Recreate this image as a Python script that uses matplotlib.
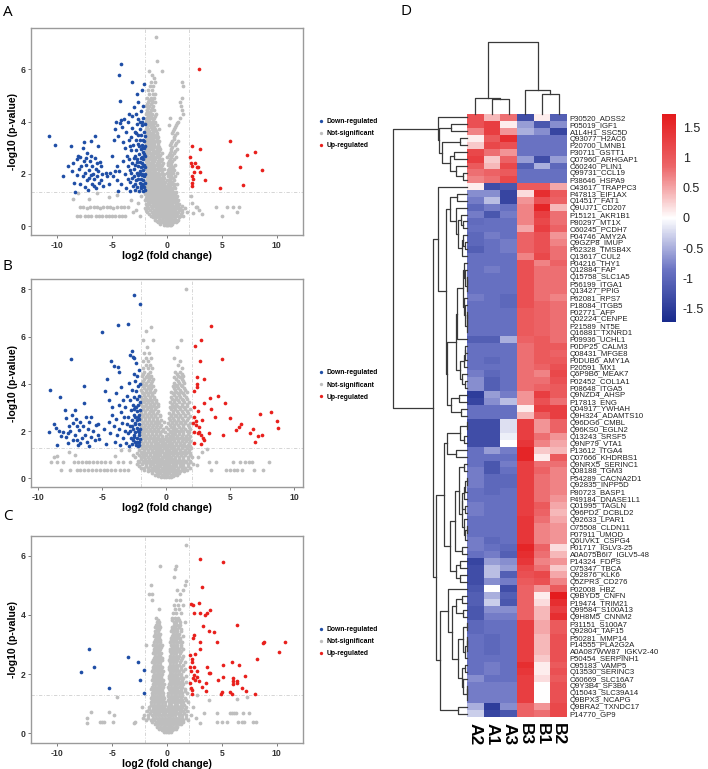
import numpy as np
import matplotlib
matplotlib.use("Agg")
import matplotlib.pyplot as plt
from matplotlib.colors import LinearSegmentedColormap
from matplotlib.lines import Line2D

plt.rcParams['font.family'] = ['Liberation Sans', 'DejaVu Sans']

# ---------------- Volcano data ----------------
legend_labels = ["Down-regulated", "Not-significant", "Up-regulated"]

a_down = [(-10.8,3.45),(-10.2,3.1),(-9.45,1.9),(-8.75,3.05),(-8.7,2.1),(-8.5,1.65),(-8.4,1.3),(-8.25,2.55),(-8.1,2.7),(-8.0,2.2),
(-7.9,2.65),(-7.8,2.3),(-7.7,1.9),(-7.6,2.5),(-7.55,3.2),(-7.5,2.05),(-7.45,1.5),(-7.4,2.35),(-7.3,1.75),(-7.25,2.8),(-7.2,1.4),
(-7.1,2.15),(-7.0,2.5),(-6.95,1.95),(-6.9,3.25),(-6.85,1.6),(-6.8,2.3),(-6.75,2.0),(-6.7,1.8),(-6.6,2.6),(-6.55,3.45),(-6.5,2.2),
(-6.45,1.45),(-6.4,2.4),(-6.35,1.9),(-6.3,3.05),(-6.25,2.1),(-6.2,1.65),(-6.1,2.45),(-6.05,1.75),(-6.0,2.3),(-5.9,2.0),(-5.8,1.55),
(-7.65,3.0),(-8.2,1.95),(-7.95,1.6),(-7.35,2.6),(-7.15,1.85),(-6.65,1.55),(-6.95,2.7),(-5.55,2.05),(-5.45,1.9),(-5.3,1.6),(-8.6,2.4),(-9.0,2.3),
(-5.0,2.7),(-4.8,3.3),(-4.7,3.7),(-4.6,1.75),(-4.5,1.35),(-4.4,5.8),(-4.15,6.2),(-4.25,4.8),(-4.2,4.05),(-4.3,3.95),(-4.1,3.8),
(-4.05,3.2),(-4.35,2.1),(-4.2,1.6),(-4.0,2.5),(-3.9,4.1),(-3.85,3.0),(-3.8,2.0),(-3.75,1.45),(-3.7,3.6),(-3.65,2.7),(-3.6,4.0),
(-3.6,1.8),(-3.55,2.3),(-3.5,3.3),(-3.5,4.3),(-4.55,2.3),(-4.75,2.1),(-5.2,2.05),(-4.9,1.9),(-4.45,3.45),(-4.65,4.0),
(-3.4,1.35),(-3.35,1.7),(-3.3,2.05),(-3.3,2.9),(-3.25,3.4),(-3.2,5.5),(-3.2,4.2),(-3.15,2.4),(-3.1,1.55),(-3.1,3.1),(-3.05,2.2),
(-3.0,4.55),(-3.0,1.9),(-2.95,2.7),(-2.95,3.6),(-2.9,1.4),(-2.9,2.35),(-2.85,3.3),(-2.85,4.3),(-2.8,1.75),(-2.8,2.9),(-2.75,2.05),
(-2.75,3.9),(-2.7,5.05),(-2.7,1.5),(-2.7,2.55),(-2.65,3.15),(-2.65,1.95),(-2.6,4.75),(-2.6,2.3),(-2.6,3.5),(-2.55,1.35),(-2.55,2.75),
(-2.5,1.65),(-2.5,3.3),(-2.5,4.0),(-2.5,2.1),(-2.45,2.45),(-2.45,3.7),(-2.4,1.8),(-2.4,2.95),(-2.4,1.45),(-2.35,2.25),(-2.35,3.5),
(-2.35,4.4),(-2.3,5.2),(-2.3,1.6),(-2.3,2.65),(-2.3,3.1),(-2.25,1.95),(-2.25,3.85),(-2.25,2.4),(-2.2,1.35),(-2.2,2.85),(-2.2,4.15),
(-2.2,1.75),(-2.15,2.15),(-2.15,3.3),(-2.15,2.55),(-2.15,4.6),(-2.1,5.45),(-2.1,1.5),(-2.1,1.9),(-2.1,2.35),(-2.1,3.0),(-2.1,3.6),
(-2.05,1.4),(-2.05,2.7),(-2.05,3.45),(-2.05,2.0),(-2.05,3.9),(-2.05,1.65),(-2.05,2.25),(-3.45,2.55),(-3.4,3.05),(-3.35,2.15),
(-3.2,1.85),(-3.15,3.75),(-3.0,2.6),(-2.9,1.6),(-2.8,3.55),(-2.75,2.45),(-2.65,1.8),(-2.6,2.0),(-2.55,3.05),(-2.45,2.0),(-2.4,2.6),
(-2.35,1.55),(-2.3,2.0),(-2.25,3.0),(-2.2,2.3),(-2.15,1.55),(-2.1,2.75),(-2.1,3.25),(-2.05,3.05),(-2.3,4.0),(-2.6,4.1)]

a_up = [(2.94,6.02),(2.3,3.08),(2.97,2.95),(2.06,2.66),(2.2,2.43),(2.27,2.31),(2.7,2.25),(2.85,2.27),(2.5,2.06),(2.97,2.06),
(2.27,1.92),(2.4,1.8),(2.27,1.66),(2.27,1.55),(3.45,1.76),(4.85,1.47),(5.76,3.26),(6.67,2.27),(6.97,1.57),(7.27,2.72),
(8.06,2.82),(8.64,2.15),(2.58,2.4)]

a_ns_rows = [
(0.05,[-0.3,-0.1,0.0,0.1,0.25,0.4]),
(0.15,[-0.8,-0.5,-0.3,-0.15,0.05,0.2,0.35,0.55,0.8]),
(0.25,[-1.1,-0.7,-0.45,-0.2,0.0,0.15,0.3,0.5,0.7,1.0]),
(0.4,[-1.5,-1.2,-0.9,-0.6,-0.4,-0.2,0.0,0.2,0.4,0.6,0.85,1.2,1.5]),
(0.55,[-1.8,-1.4,-1.1,-0.8,-0.55,-0.3,-0.1,0.1,0.3,0.5,0.75,1.0,1.4,1.8]),
(0.7,[-2.0,-1.7,-1.35,-1.0,-0.75,-0.5,-0.3,-0.05,0.15,0.35,0.6,0.9,1.2,1.6]),
(0.85,[-1.9,-1.6,-1.3,-1.05,-0.8,-0.6,-0.35,-0.15,0.05,0.25,0.5,0.8,1.1]),
(1.0,[-2.0,-1.75,-1.5,-1.2,-0.95,-0.7,-0.5,-0.25,0.0,0.2,0.45,0.7,1.0]),
(1.15,[-1.85,-1.6,-1.35,-1.1,-0.85,-0.6,-0.4,-0.15,0.1,0.35,0.6,0.9]),
(1.3,[-1.95,-1.7,-1.45,-1.2,-0.95,-0.7,-0.45,-0.2,0.05,0.3,0.55,0.85]),
(1.45,[-1.9,-1.65,-1.4,-1.15,-0.9,-0.65,-0.4,-0.1,0.15,0.45,0.75]),
(1.6,[-2.0,-1.75,-1.5,-1.25,-1.0,-0.75,-0.5,-0.25,0.05,0.35,0.65,0.95]),
(1.75,[-1.85,-1.6,-1.35,-1.1,-0.85,-0.6,-0.35,0.0,0.3,0.6]),
(1.9,[-1.95,-1.7,-1.45,-1.2,-0.95,-0.7,-0.4,0.1,0.4,0.7]),
(2.05,[-1.85,-1.6,-1.35,-1.05,-0.8,-0.5,0.0,0.25,0.55,0.9]),
(2.2,[-1.95,-1.7,-1.45,-1.2,-0.9,-0.6,-0.3,0.15,0.45]),
(2.35,[-1.85,-1.55,-1.3,-1.0,-0.7,-0.45,0.05,0.35,0.7]),
(2.5,[-1.95,-1.7,-1.4,-1.15,-0.85,-0.55,0.2,0.5]),
(2.65,[-1.8,-1.55,-1.3,-1.0,-0.7,0.0,0.35,0.8]),
(2.8,[-1.95,-1.65,-1.4,-1.1,-0.8,-0.5,0.25,0.6]),
(2.95,[-1.85,-1.55,-1.25,-0.95,-0.6,0.4,0.9]),
(3.1,[-1.95,-1.7,-1.45,-1.15,-0.85,0.3,0.7]),
(3.25,[-1.8,-1.55,-1.3,-1.0,-0.7,0.5,1.0]),
(3.4,[-1.95,-1.65,-1.4,-1.1,-0.8,0.65]),
(3.55,[-1.85,-1.55,-1.25,-0.95,0.45,0.9]),
(3.7,[-1.95,-1.7,-1.4,-1.1,-0.75,0.6]),
(3.85,[-1.8,-1.55,-1.25,-0.95,0.15,0.8]),
(4.0,[-1.95,-1.65,-1.35,-1.05,1.0]),
(4.15,[-1.85,-1.5,-1.2,0.3,1.2]),
(4.3,[-1.95,-1.65,-1.35,-1.0,1.5]),
(4.45,[-1.8,-1.5,-1.15,1.35]),
(4.6,[-1.9,-1.6,-1.3,1.25]),
(4.75,[-1.75,-1.4,-1.1,1.2]),
(4.9,[-1.85,-1.5,-1.2,1.35]),
(5.05,[-1.65,-1.3,-1.05]),
(5.2,[-1.75,-1.4]),
(5.35,[-1.55,-1.3,1.5]),
(5.5,[-1.45,-1.1,1.35]),
(5.65,[-1.2]),
(5.8,[-1.35]),
(5.95,[-1.6,-0.45]),
(6.3,[-0.9]),
(7.25,[-1.0]),
(0.1,[-0.6,-0.2,0.15,0.5]),
(0.2,[-0.95,-0.6,-0.1,0.25,0.6,0.9]),
(0.33,[-1.3,-1.0,-0.75,-0.5,-0.3,-0.1,0.1,0.3,0.5,0.75,1.1]),
(0.48,[-1.65,-1.3,-1.0,-0.7,-0.5,-0.25,-0.05,0.2,0.45,0.7,0.95,1.3]),
(0.63,[-1.9,-1.55,-1.2,-0.9,-0.65,-0.4,-0.2,0.05,0.25,0.45,0.7,1.05,1.4]),
(0.78,[-1.85,-1.5,-1.15,-0.9,-0.65,-0.4,-0.2,0.05,0.25,0.45,0.7,1.0,1.35]),
(0.93,[-1.75,-1.45,-1.15,-0.9,-0.7,-0.45,-0.25,-0.05,0.15,0.35,0.6,0.9]),
(1.08,[-1.9,-1.6,-1.35,-1.05,-0.8,-0.6,-0.35,-0.1,0.1,0.3,0.55,0.8]),
(1.23,[-2.0,-1.75,-1.5,-1.25,-1.0,-0.75,-0.5,-0.3,-0.05,0.2,0.45,0.7]),
(1.38,[-1.85,-1.55,-1.3,-1.05,-0.8,-0.55,-0.3,-0.05,0.2,0.45]),
(1.53,[-1.8,-1.55,-1.3,-1.05,-0.8,-0.55,-0.3,0.0,0.3,0.6]),
(1.68,[-1.95,-1.7,-1.45,-1.2,-0.95,-0.7,-0.45,-0.15,0.15,0.45]),
(1.83,[-1.8,-1.55,-1.3,-1.05,-0.8,-0.55,-0.25,0.25,0.55]),
(1.98,[-1.95,-1.7,-1.45,-1.2,-0.95,-0.65,-0.3,0.15,0.4]),
(2.13,[-1.8,-1.55,-1.3,-1.05,-0.75,-0.45,0.05,0.35,0.65]),
(2.28,[-1.95,-1.65,-1.4,-1.15,-0.85,-0.55,0.25,0.55]),
(2.43,[-1.8,-1.55,-1.25,-0.95,-0.7,-0.35,0.1,0.4]),
(2.58,[-1.9,-1.6,-1.35,-1.05,-0.75,-0.5,0.3,0.65]),
(2.73,[-1.8,-1.5,-1.25,-0.95,-0.65,0.15,0.5]),
(2.88,[-1.9,-1.6,-1.3,-1.0,-0.75,0.35,0.7]),
(3.03,[-1.8,-1.55,-1.3,-1.0,-0.7,0.5]),
(3.18,[-1.9,-1.65,-1.4,-1.15,-0.85,0.4,0.85]),
(3.33,[-1.85,-1.55,-1.25,-0.95,0.6]),
(3.48,[-1.75,-1.5,-1.2,-0.9,0.75]),
(3.63,[-1.9,-1.6,-1.3,-1.0,0.55]),
(3.78,[-1.85,-1.5,-1.2,0.7]),
(3.93,[-1.75,-1.45,-1.15,0.9]),
(4.08,[-1.9,-1.6,-1.3]),
(4.23,[-1.75,-1.45,-1.1]),
(4.38,[-1.85,-1.55]),
(4.53,[-1.7,-1.4]),
(4.68,[-1.85,-1.5]),
(4.83,[-1.65,-1.35])]

a_ns_extra = [(-8.55,1.03),(-8.1,1.28),(-7.1,1.02),(-6.4,1.28),(-5.3,1.1),(-4.6,1.2),(-3.3,1.0),(-3.6,0.74),(-2.6,0.9),(-2.4,1.15),
(-7.95,0.74),(-7.7,0.72),(-7.3,0.7),(-7.0,0.74),(-6.7,0.72),(-6.4,0.74),(-6.1,0.7),(-5.8,0.74),(-5.5,0.72),(-5.2,0.74),(-4.9,0.7),
(-4.6,0.74),(-4.2,0.72),(-3.9,0.74),(-8.25,0.38),(-7.9,0.37),(-7.5,0.38),(-7.2,0.37),(-6.9,0.38),(-6.5,0.37),(-6.2,0.38),(-5.9,0.37),
(-5.6,0.38),(-5.3,0.37),(-5.0,0.38),(-4.7,0.37),(-4.4,0.38),(-4.1,0.37),(-3.8,0.38),(-3.1,0.55),(-2.8,0.6),(-2.5,0.4),
(2.3,0.9),(2.6,0.75),(2.7,0.74),(2.9,0.6),(3.2,0.45),(4.5,0.74),(5.0,0.38),(5.5,0.74),(6.05,0.74),(6.4,0.55),(6.6,0.74),(2.2,1.15),(2.4,0.5)]

b_down = [(-9.2,1.95),(-9.05,3.75),(-8.75,2.3),(-8.6,2.15),(-8.55,1.4),(-8.3,3.45),(-8.2,1.8),(-8.05,1.95),(-7.95,2.9),(-7.85,1.75),
(-7.8,2.55),(-7.7,1.5),(-7.6,2.2),(-7.5,2.0),(-7.45,5.05),(-7.4,2.7),(-7.3,1.6),(-7.25,2.35),(-7.15,2.9),(-7.1,1.85),(-7.05,2.5),
(-6.95,2.2),(-6.9,1.4),(-6.8,2.05),(-6.7,2.4),(-6.6,1.7),(-6.5,2.2),(-6.45,3.2),(-6.4,3.9),(-6.35,1.85),(-6.3,2.6),(-6.2,1.55),
(-6.1,2.1),(-6.0,2.4),(-5.9,1.75),(-5.85,2.6),(-5.75,2.0),(-5.6,1.6),(-5.5,2.25),(-5.35,1.85),(-5.3,2.3),(-5.25,1.65),(-7.65,1.9),
(-7.0,1.6),(-8.4,2.0),(-6.75,1.5),(-6.05,1.35),
(-5.05,6.2),(-4.9,2.1),(-4.8,3.7),(-4.7,1.45),(-4.6,4.2),(-4.5,3.3),(-4.45,2.4),(-4.4,1.9),(-4.3,4.95),(-4.25,3.0),(-4.2,2.7),
(-4.1,4.75),(-4.1,2.2),(-4.0,1.55),(-3.95,3.6),(-3.9,2.5),(-3.85,1.85),(-3.75,6.5),(-3.75,4.7),(-3.7,4.5),(-3.7,3.1),(-3.65,2.1),
(-3.6,1.4),(-3.55,2.8),(-3.5,3.85),(-3.45,2.35),(-3.4,1.7),(-3.35,3.3),(-3.3,2.6),(-3.25,2.0),
(-2.95,6.55),(-2.55,7.78),(-2.05,7.38),(-3.2,3.0),(-3.15,1.5),(-3.1,2.3),(-3.05,3.5),(-3.0,1.9),(-2.95,2.6),(-2.9,4.05),(-2.9,1.35),
(-2.85,2.2),(-2.8,3.3),(-2.8,5.2),(-2.75,1.7),(-2.75,2.9),(-2.7,5.4),(-2.7,2.45),(-2.65,3.75),(-2.65,1.45),(-2.6,2.1),(-2.6,3.1),
(-2.6,5.15),(-2.55,4.4),(-2.55,1.85),(-2.5,2.7),(-2.5,3.45),(-2.5,5.1),(-2.45,1.55),(-2.45,2.3),(-2.45,4.1),(-2.4,3.0),(-2.4,1.95),
(-2.4,2.6),(-2.35,3.7),(-2.35,1.4),(-2.35,4.9),(-2.3,2.15),(-2.3,2.85),(-2.3,3.35),(-2.25,1.7),(-2.25,2.45),(-2.25,4.35),(-2.2,1.35),
(-2.2,2.0),(-2.2,3.1),(-2.2,3.9),(-2.15,2.3),(-2.15,1.55),(-2.15,2.7),(-2.15,4.6),(-2.1,1.85),(-2.1,3.5),(-2.1,2.5),(-2.1,1.4),
(-2.05,2.1),(-2.05,2.9),(-2.05,3.25),(-2.05,1.65),(-2.05,4.0),(-2.6,1.6),(-2.7,2.2),(-2.85,2.0),(-2.5,1.75),(-2.4,2.35),(-2.3,1.55),
(-2.2,2.6),(-2.15,1.95),(-2.35,3.0),(-2.55,2.95)]

b_up = [(3.51,6.46),(2.75,5.85),(2.28,5.59),(2.62,4.96),(4.35,5.05),(2.41,4.3),(2.96,4.2),(2.41,3.98),(2.41,3.88),(2.17,3.71),
(4.06,3.48),(3.43,3.38),(3.53,2.93),(2.96,3.17),(4.58,3.2),(2.17,3.0),(2.46,2.86),(3.8,2.6),(5.03,2.57),(7.33,2.71),(8.17,2.79),
(8.69,2.44),(8.74,2.14),(5.89,2.3),(5.71,2.16),(5.45,2.05),(6.54,1.9),(6.8,2.07),(7.2,1.8),(7.5,1.83),(6.94,1.55),(4.45,1.83),
(3.32,1.9),(2.17,2.6),(2.1,2.33),(2.36,2.26),(2.6,2.19),(2.17,1.97),(2.6,1.97),(2.49,1.9),(2.75,1.83),(2.88,1.7),(2.98,1.6),
(2.17,1.48),(2.7,1.44),(2.8,2.47),(2.3,2.44)]

b_ns_rows = [
(0.05,[-0.4,-0.2,0.0,0.2,0.4]),
(0.15,[-0.9,-0.6,-0.35,-0.1,0.1,0.35,0.6,0.85]),
(0.3,[-1.4,-1.1,-0.8,-0.55,-0.3,-0.1,0.1,0.3,0.55,0.8,1.1,1.4]),
(0.45,[-2.0,-1.7,-1.4,-1.1,-0.85,-0.6,-0.35,-0.1,0.15,0.4,0.65,0.9,1.2,1.5,1.9]),
(0.6,[-2.3,-1.9,-1.6,-1.3,-1.0,-0.75,-0.5,-0.25,0.0,0.25,0.5,0.75,1.05,1.35,1.7,2.1]),
(0.75,[-2.2,-1.85,-1.5,-1.2,-0.95,-0.7,-0.45,-0.2,0.05,0.3,0.55,0.85,1.15,1.5,1.9]),
(0.9,[-2.4,-2.0,-1.7,-1.4,-1.1,-0.85,-0.6,-0.35,-0.1,0.15,0.4,0.7,1.0,1.3,1.7,2.0]),
(1.05,[-2.3,-1.9,-1.55,-1.25,-0.95,-0.7,-0.45,-0.2,0.1,0.35,0.6,0.9,1.2,1.55,1.9]),
(1.2,[-2.1,-1.75,-1.4,-1.1,-0.8,-0.55,-0.3,-0.05,0.25,0.5,0.8,1.1,1.45,1.8]),
(1.35,[-1.95,-1.65,-1.35,-1.05,-0.8,-0.5,-0.25,0.05,0.3,0.6,0.9,1.2,1.5,1.85]),
(1.5,[-1.8,-1.5,-1.2,-0.9,-0.65,-0.35,-0.1,0.2,0.45,0.75,1.05,1.4,1.75]),
(1.65,[-1.95,-1.65,-1.35,-1.05,-0.75,-0.5,-0.2,0.1,0.35,0.65,0.95,1.3,1.65]),
(1.8,[-1.85,-1.55,-1.25,-0.95,-0.65,-0.35,0.0,0.3,0.55,0.85,1.2,1.55,1.9]),
(1.95,[-1.95,-1.7,-1.4,-1.1,-0.8,-0.45,-0.1,0.4,0.7,1.0,1.35,1.75]),
(2.1,[-1.85,-1.55,-1.25,-0.95,-0.6,-0.25,0.15,0.5,0.8,1.15,1.5,1.9]),
(2.25,[-1.95,-1.65,-1.35,-1.05,-0.75,-0.4,0.3,0.6,0.95,1.3,1.7]),
(2.4,[-1.8,-1.5,-1.2,-0.9,-0.55,-0.2,0.45,0.75,1.1,1.5]),
(2.55,[-1.95,-1.65,-1.35,-1.0,-0.7,0.2,0.55,0.9,1.25,1.7]),
(2.7,[-1.85,-1.5,-1.2,-0.85,-0.45,0.35,0.7,1.05,1.45]),
(2.85,[-1.95,-1.65,-1.3,-1.0,-0.65,0.5,0.85,1.2,1.65]),
(3.0,[-1.8,-1.45,-1.15,-0.8,0.3,0.65,1.0,1.4]),
(3.15,[-1.95,-1.6,-1.3,-0.95,-0.6,0.45,0.8,1.2,1.6]),
(3.3,[-1.85,-1.5,-1.15,-0.8,0.6,0.95,1.35]),
(3.45,[-1.95,-1.65,-1.3,-0.95,0.4,0.75,1.1,1.55]),
(3.6,[-1.8,-1.45,-1.1,0.55,0.9,1.3]),
(3.75,[-1.95,-1.6,-1.25,-0.9,0.7,1.05,1.5]),
(3.9,[-1.8,-1.4,-1.05,0.5,0.85,1.25]),
(4.05,[-1.9,-1.55,-1.2,0.65,1.0,1.4]),
(4.2,[-1.75,-1.35,-1.0,0.8,1.2]),
(4.35,[-1.9,-1.5,-1.15,0.95,1.35]),
(4.5,[-1.7,-1.3,0.7,1.1]),
(4.65,[-1.85,-1.45,-1.1,1.25]),
(4.8,[-1.6,-1.25,0.9]),
(4.95,[-1.8,-1.4,1.05]),
(5.1,[-1.55,-1.2,0.6]),
(5.3,[-1.7,-1.35]),
(5.55,[-1.5,0.85]),
(5.85,[-1.8,-1.0,1.15]),
(6.25,[-1.55]),
(6.4,[-1.2]),
(8.0,[1.55]),
(0.1,[-0.65,-0.3,0.1,0.5]),
(0.22,[-1.1,-0.75,-0.45,-0.2,0.0,0.25,0.5,0.75,1.0]),
(0.37,[-1.7,-1.25,-0.95,-0.7,-0.45,-0.2,0.0,0.2,0.45,0.7,0.95,1.25,1.65]),
(0.52,[-2.1,-1.55,-1.25,-0.95,-0.7,-0.45,-0.2,0.05,0.3,0.55,0.8,1.05,1.35,1.7]),
(0.67,[-2.1,-1.75,-1.45,-1.15,-0.85,-0.6,-0.35,-0.1,0.15,0.4,0.65,0.9,1.2,1.55,1.9]),
(0.82,[-2.0,-1.65,-1.35,-1.05,-0.8,-0.55,-0.3,-0.05,0.2,0.45,0.7,1.0,1.3,1.7]),
(0.97,[-2.15,-1.8,-1.55,-1.25,-0.95,-0.7,-0.45,-0.2,0.0,0.25,0.55,0.85,1.15,1.5,1.85]),
(1.12,[-2.0,-1.7,-1.4,-1.1,-0.85,-0.6,-0.35,-0.05,0.2,0.45,0.75,1.05,1.35,1.7]),
(1.27,[-1.9,-1.6,-1.25,-0.95,-0.7,-0.45,-0.15,0.1,0.35,0.65,0.95,1.25,1.6,1.95]),
(1.42,[-1.8,-1.5,-1.2,-0.9,-0.65,-0.4,-0.1,0.15,0.45,0.75,1.05,1.35,1.7]),
(1.57,[-1.95,-1.65,-1.35,-1.05,-0.8,-0.5,-0.25,0.05,0.3,0.6,0.9,1.2,1.55,1.9]),
(1.72,[-1.8,-1.5,-1.2,-0.9,-0.6,-0.35,-0.05,0.2,0.5,0.8,1.1,1.45,1.8]),
(1.87,[-1.95,-1.7,-1.4,-1.1,-0.8,-0.5,0.15,0.45,0.7,1.0,1.35,1.7]),
(2.02,[-1.8,-1.5,-1.2,-0.9,-0.6,-0.3,0.3,0.6,0.9,1.25,1.6]),
(2.17,[-1.95,-1.7,-1.4,-1.1,-0.8,-0.45,0.0,0.35,0.65,1.0,1.35,1.75]),
(2.32,[-1.8,-1.5,-1.2,-0.9,-0.6,0.15,0.45,0.8,1.15,1.5,1.85]),
(2.47,[-1.95,-1.65,-1.35,-1.05,-0.75,-0.4,0.3,0.6,0.95,1.3,1.65]),
(2.62,[-1.8,-1.5,-1.2,-0.85,-0.5,0.4,0.75,1.1,1.45,1.85]),
(2.77,[-1.95,-1.65,-1.35,-1.05,-0.7,0.2,0.55,0.9,1.3,1.7]),
(2.92,[-1.8,-1.5,-1.15,-0.85,0.35,0.7,1.05,1.45,1.85]),
(3.07,[-1.9,-1.65,-1.3,-1.0,-0.65,0.5,0.85,1.2,1.6]),
(3.22,[-1.75,-1.45,-1.1,-0.8,0.3,0.65,1.0,1.4,1.8]),
(3.37,[-1.9,-1.6,-1.3,-0.95,0.45,0.8,1.2,1.6]),
(3.52,[-1.75,-1.45,-1.1,0.65,1.0,1.4]),
(3.67,[-1.9,-1.6,-1.3,-0.95,0.4,0.75,1.15,1.6]),
(3.82,[-1.75,-1.45,-1.15,0.6,0.95,1.4]),
(3.97,[-1.65,-1.3,0.75,1.15]),
(4.12,[-1.85,-1.45,-1.1,0.9,1.3]),
(4.27,[-1.6,-1.25,0.6,1.05]),
(4.42,[-1.8,-1.4,0.85,1.25])]

b_ns_extra = [(-8.2,0.37),(-7.5,0.37),(-7.0,0.37),(-6.7,0.37),(-6.4,0.37),(-6.1,0.37),(-5.8,0.37),(-5.5,0.37),(-5.2,0.37),(-4.9,0.37),
(-4.6,0.37),(-4.3,0.37),(-4.0,0.37),(-3.6,0.37),(-3.3,0.37),(-3.0,0.37),
(-9.0,0.7),(-8.5,0.7),(-8.1,0.7),(-7.2,0.7),(-6.9,0.7),(-6.6,0.7),(-6.3,0.7),(-6.0,0.7),(-5.7,0.7),(-5.4,0.7),(-5.1,0.7),(-4.8,0.7),
(-4.4,0.7),(-3.8,0.7),(-3.4,0.7),(-2.8,0.7),(-8.8,0.9),(-8.5,0.95),(-7.6,1.1),(-7.1,1.0),(-4.0,0.95),(-3.5,1.2),(-2.6,1.0),(-2.9,1.2),
(3.5,0.37),(4.7,0.37),(5.0,0.37),(5.3,0.37),(5.55,0.37),(5.9,0.37),(6.9,0.37),(7.6,0.37),
(3.35,0.7),(3.9,0.7),(5.2,0.7),(5.8,0.7),(6.15,0.7),(6.45,0.7),(6.75,0.7),(8.05,0.7),(2.5,0.9),(2.8,1.1),(3.2,1.25),(2.4,0.55)]

c_down = [(-7.12,2.85),(-7.88,2.06),(-6.67,2.23),(-5.3,1.54),(-3.55,2.57),(-2.64,2.4),(-2.12,2.14),(-2.48,1.8),(-2.06,1.37)]

c_up = [(2.97,5.9),(5.09,5.79),(3.18,4.93),(2.18,4.37),(2.33,4.32),(2.94,4.39),(2.48,4.08),(3.03,4.08),(3.48,4.01),(3.64,4.05),
(3.88,4.17),(3.27,3.63),(3.79,3.46),(4.33,3.41),(6.36,3.66),(4.55,3.07),(2.42,3.32),(2.33,3.21),(2.97,3.07),(3.03,2.85),(2.52,2.68),
(2.06,2.65),(2.27,2.51),(2.27,2.4),(2.06,2.25),(2.48,2.25),(2.21,2.12),(2.42,1.97),(2.36,1.86),(2.52,1.8),(2.73,2.09),(2.73,1.9),
(2.88,1.75),(2.06,1.69),(2.18,1.52),(2.27,1.46),(2.27,1.33),(3.18,1.55),(3.58,1.69),(3.79,2.05),(3.94,2.05),(3.64,2.25),(3.55,1.43),
(4.67,1.8),(5.06,1.4),(4.91,1.33),(5.15,2.31),(5.15,1.91),(5.76,1.41),(5.91,1.33),(5.97,2.4),(6.06,1.86),(6.06,1.75),(6.06,1.67),
(6.42,1.75),(6.36,1.69),(6.52,2.31),(6.88,1.52),(7.12,1.95),(7.21,1.44),(8.03,1.33),(8.18,2.51),(8.73,3.04),(8.85,3.07),(10.24,2.74),
(10.76,3.1)]

c_ns_rows = [
(0.05,[-0.3,-0.1,0.05,0.2,0.35]),
(0.15,[-0.7,-0.45,-0.25,-0.05,0.15,0.35,0.6,0.8]),
(0.3,[-1.1,-0.8,-0.55,-0.3,-0.1,0.1,0.3,0.55,0.8,1.05,1.3]),
(0.45,[-1.9,-1.5,-1.15,-0.85,-0.6,-0.35,-0.1,0.15,0.4,0.65,0.9,1.2,1.5,1.9]),
(0.6,[-2.1,-1.7,-1.35,-1.05,-0.8,-0.55,-0.3,0.0,0.25,0.5,0.75,1.05,1.35,1.7,2.2]),
(0.75,[-1.8,-1.45,-1.15,-0.9,-0.65,-0.4,-0.15,0.1,0.35,0.6,0.85,1.15,1.5,1.85]),
(0.9,[-1.6,-1.3,-1.05,-0.8,-0.55,-0.3,0.05,0.3,0.55,0.8,1.05,1.35,1.7]),
(1.05,[-1.45,-1.2,-0.95,-0.7,-0.45,-0.2,0.15,0.4,0.65,0.9,1.2,1.5,1.9]),
(1.2,[-1.5,-1.25,-1.0,-0.75,-0.5,-0.25,0.2,0.45,0.7,0.95,1.25,1.6]),
(1.35,[-1.35,-1.1,-0.85,-0.6,-0.35,0.1,0.35,0.6,0.85,1.1,1.4,1.8]),
(1.5,[-1.45,-1.2,-0.95,-0.7,-0.45,0.2,0.45,0.7,0.95,1.25,1.6]),
(1.65,[-1.3,-1.05,-0.8,-0.55,-0.3,0.15,0.4,0.65,0.9,1.2,1.5]),
(1.8,[-1.4,-1.15,-0.9,-0.65,-0.4,0.25,0.5,0.75,1.0,1.35]),
(1.95,[-1.3,-1.05,-0.8,-0.55,0.2,0.45,0.7,0.95,1.3,1.75]),
(2.1,[-1.4,-1.15,-0.9,-0.65,-0.4,0.3,0.55,0.8,1.1,1.45]),
(2.25,[-1.25,-1.0,-0.75,-0.5,0.2,0.45,0.7,0.95,1.3]),
(2.4,[-1.35,-1.1,-0.85,-0.6,0.3,0.55,0.8,1.15,1.6]),
(2.55,[-1.2,-0.95,-0.7,-0.45,0.25,0.5,0.75,1.0,1.4]),
(2.7,[-1.3,-1.05,-0.8,-0.55,0.35,0.6,0.85,1.2]),
(2.85,[-1.15,-0.9,-0.65,0.3,0.55,0.8,1.1,1.5]),
(3.0,[-1.95,-1.25,-1.0,-0.75,-0.5,0.4,0.65,0.9,1.3]),
(3.15,[-1.1,-0.85,-0.6,0.35,0.6,0.85,1.15]),
(3.3,[-1.2,-0.95,-0.7,0.45,0.7,1.0,1.45]),
(3.45,[-1.05,-0.8,0.4,0.65,0.9,1.25]),
(3.6,[-1.1,-0.85,-0.6,0.5,0.75,1.05]),
(3.75,[-0.95,-0.7,0.6,0.85,1.2,1.6]),
(3.9,[-1.0,0.45,0.7,1.0]),
(4.05,[0.55,0.85,1.3]),
(4.2,[-0.75,0.7,1.1]),
(4.35,[0.6,1.0,1.5]),
(4.5,[-1.4,0.8,1.2]),
(4.7,[-1.65,-1.35,1.2]),
(4.85,[0.9,1.45]),
(5.0,[-1.45,1.6]),
(5.15,[1.7]),
(5.3,[0.6]),
(5.55,[0.7]),
(5.65,[-0.65,0.8]),
(6.35,[1.7]),
(0.1,[-0.5,-0.2,0.1,0.45]),
(0.22,[-0.9,-0.6,-0.35,-0.15,0.05,0.25,0.45,0.7,0.95]),
(0.37,[-1.35,-1.0,-0.7,-0.45,-0.2,0.0,0.2,0.45,0.7,0.95,1.2,1.5]),
(0.52,[-1.7,-1.3,-1.0,-0.75,-0.45,-0.2,0.05,0.3,0.55,0.8,1.05,1.35,1.7]),
(0.67,[-1.55,-1.2,-0.95,-0.7,-0.4,-0.15,0.15,0.4,0.65,0.9,1.2,1.55]),
(0.82,[-1.65,-1.3,-1.0,-0.75,-0.5,-0.25,0.0,0.25,0.5,0.75,1.0,1.3,1.65]),
(0.97,[-1.5,-1.2,-0.95,-0.7,-0.45,-0.2,0.15,0.4,0.7,0.95,1.25,1.55]),
(1.12,[-1.35,-1.1,-0.85,-0.6,-0.35,0.05,0.3,0.55,0.8,1.05,1.35,1.7]),
(1.27,[-1.4,-1.15,-0.9,-0.65,-0.4,0.1,0.35,0.6,0.85,1.1,1.4]),
(1.42,[-1.25,-1.0,-0.75,-0.5,0.25,0.5,0.75,1.0,1.3,1.6]),
(1.57,[-1.35,-1.1,-0.85,-0.6,-0.35,0.1,0.35,0.6,0.85,1.1,1.4]),
(1.72,[-1.2,-0.95,-0.7,-0.45,0.3,0.55,0.8,1.05,1.35,1.7]),
(1.87,[-1.3,-1.05,-0.8,-0.55,0.15,0.4,0.65,0.9,1.15,1.5]),
(2.02,[-1.2,-0.95,-0.7,-0.45,0.25,0.5,0.75,1.0,1.3]),
(2.17,[-1.3,-1.05,-0.8,-0.55,0.2,0.45,0.7,0.95,1.25,1.6]),
(2.32,[-1.15,-0.9,-0.65,0.3,0.55,0.85,1.1,1.45]),
(2.47,[-1.25,-1.0,-0.75,-0.5,0.2,0.45,0.7,0.95,1.25]),
(2.62,[-1.1,-0.85,-0.6,0.3,0.55,0.8,1.1,1.5]),
(2.77,[-1.2,-0.95,-0.7,0.25,0.5,0.75,1.0,1.3]),
(2.92,[-1.05,-0.8,-0.55,0.45,0.7,0.95,1.25]),
(3.07,[-1.15,-0.9,-0.65,0.3,0.55,0.8,1.05,1.4]),
(3.22,[-1.0,-0.75,0.4,0.65,0.9,1.2]),
(3.37,[-1.1,-0.85,-0.6,0.55,0.8,1.1]),
(3.52,[-0.95,-0.7,0.45,0.7,0.95,1.3]),
(3.67,[-1.0,-0.75,0.6,0.9,1.15]),
(3.82,[-0.85,0.5,0.8,1.05])]

c_ns_extra = [(-7.33,0.51),(-7.27,0.36),(-6.97,0.71),(-6.1,0.37),(-5.9,0.37),(-5.76,0.37),(-5.3,0.71),(-4.85,0.6),(-4.9,0.37),
(-4.55,1.24),(-3.03,0.36),(-2.9,0.37),(-2.2,0.5),(-2.3,0.9),
(3.03,0.36),(3.33,0.68),(3.79,1.13),(4.55,0.68),(4.6,0.37),(5.0,0.37),(5.5,0.37),(5.76,0.68),(5.9,0.68),(6.1,0.68),(6.3,0.68),
(6.9,0.68),(6.5,0.37),(6.8,0.37),(7.0,0.37),(7.8,0.37),(8.1,0.37),(7.5,0.68),(7.27,1.24),(6.36,1.16),(2.73,1.3),(2.4,0.9),(2.6,0.5)]

# ---------------- Heatmap data (row-scaled values) ----------------
hm_cols = ["A2", "A1", "A3", "B3", "B1", "B2"]
hm_rows = ["P30520_ADSS2","P05019_IGF1","A1L4H1_SSC5D","Q93077_H2AC6","P20700_LMNB1","P30711_GSTT1","Q07960_ARHGAP1","O60240_PLIN1","Q99731_CCL19","P38646_HSPA9",
"O43617_TRAPPC3","P47813_EIF1AX","Q14517_FAT1","Q9UJ71_CD207","P15121_AKR1B1","P80297_MT1X","O60245_PCDH7","P04746_AMY2A","Q9GZP8_IMUP","P62328_TMSB4X",
"Q13617_CUL2","P04216_THY1","Q12884_FAP","Q15758_SLC1A5","P56199_ITGA1","Q13427_PPIG","P62081_RPS7","P18084_ITGB5","P02771_AFP","Q02224_CENPE",
"P21589_NT5E","Q16881_TXNRD1","P09936_UCHL1","P0DP25_CALM3","Q08431_MFGE8","P0DUB6_AMY1A","P20591_MX1","Q6P9B6_MEAK7","P02452_COL1A1","P08648_ITGA5",
"Q9NZD4_AHSP","P17813_ENG","Q04917_YWHAH","Q9H324_ADAMTS10","Q96DG6_CMBL","Q96KS0_EGLN2","Q13243_SRSF5","Q9NP79_VTA1","P13612_ITGA4","Q07666_KHDRBS1",
"Q9NRX5_SERINC1","Q08188_TGM3","P54289_CACNA2D1","Q92835_INPP5D","P80723_BASP1","P49184_DNASE1L1","Q01995_TAGLN","Q96PD2_DCBLD2","Q92633_LPAR1","O75508_CLDN11",
"P07911_UMOD","Q6UVK1_CSPG4","P01717_IGLV3-25","A0A075B6I7_IGLV5-48","P14324_FDPS","O75347_TBCA","Q92876_KLK6","Q5ZPR3_CD276","P02008_HBZ","Q9BYD5_CNFN",
"P19474_TRIM21","Q99584_S100A13","Q9H8M5_CNNM2","P31151_S100A7","Q92804_TAF15","P50281_MMP14","P14555_PLA2G2A","A0A087WW87_IGKV2-40","P50454_SERPINH1","O95183_VAMP5",
"Q13530_SERINC3","O60669_SLC16A7","Q9Y3B4_SF3B6","Q15043_SLC39A14","Q9BPX3_NCAPG","Q9BRA2_TXNDC17","P14770_GP9"]

hm_values = [
[1.1,0.4,0.8,-1.3,0.1,-1.1],[1.1,1.3,0.1,-0.6,-1.2,-0.7],[0.7,1.3,0.6,-0.5,-0.7,-1.4],[0.1,1.0,1.5,-0.87,-0.87,-0.87],
[0.3,1.2,1.1,-0.87,-0.87,-0.87],[1.2,0.8,0.6,-0.87,-0.87,-0.87],[1.3,0.3,0.9,-0.6,-1.3,-0.6],[1.0,0.4,1.2,-1.1,-0.5,-1.0],
[0.8,0.9,1.0,-0.9,-0.9,-0.9],[0.7,0.8,1.2,-0.9,-0.9,-0.9],
[0.1,-1.3,-1.2,1.0,1.0,0.5],[-0.7,-0.7,-1.4,0.2,1.5,1.0],[-0.8,-0.4,-1.4,0.6,1.1,0.9],[-1.0,-0.8,-0.9,0.7,1.6,0.4],
[-0.8,-1.2,-0.8,0.7,1.3,0.8],[-0.95,-0.9,-0.9,0.7,1.2,0.8],[-0.9,-0.9,-0.9,0.5,1.3,0.9],[-1.0,-0.8,-0.9,0.9,1.1,0.6],
[-1.0,-0.9,-0.8,0.9,1.1,0.7],[-1.1,-0.9,-0.8,0.9,1.1,0.8],
[-0.9,-0.9,-0.9,0.7,1.2,0.8],[-0.9,-0.9,-0.9,1.1,0.7,0.9],[-0.9,-0.8,-0.9,1.1,0.8,0.8],[-0.9,-0.9,-0.9,1.1,0.8,0.8],
[-0.9,-0.9,-0.9,1.1,0.8,0.8],[-0.9,-0.9,-0.9,1.1,0.8,0.8],[-0.8,-0.9,-1.0,1.1,0.8,0.7],[-0.9,-0.9,-1.0,1.1,0.9,0.8],
[-0.9,-0.9,-0.9,1.0,0.9,0.8],[-0.9,-0.9,-0.9,1.0,0.9,0.8],
[-0.9,-0.9,-0.9,1.0,0.9,0.8],[-0.9,-0.9,-0.9,1.0,0.9,0.8],[-1.1,-1.1,-0.5,0.9,1.0,0.8],[-0.9,-0.9,-0.9,0.8,1.0,1.0],
[-0.9,-0.9,-0.9,0.8,1.0,0.9],[-0.9,-1.0,-0.9,0.8,1.0,1.0],[-0.9,-0.9,-0.9,0.8,0.9,1.1],[-0.8,-1.0,-0.9,0.8,0.7,1.2],
[-0.7,-1.1,-0.9,0.8,0.8,1.1],[-0.7,-1.1,-0.9,0.8,0.9,1.0],
[-1.5,-0.6,-0.8,0.6,1.3,1.0],[-1.4,-0.7,-0.4,0.6,1.1,0.8],[-0.9,-0.9,-0.9,0.1,1.3,1.3],[-0.9,-0.9,-0.9,0.4,1.0,1.3],
[-1.3,-1.3,-0.2,1.3,0.6,0.9],[-1.3,-1.3,-0.2,1.3,0.6,0.9],[-1.3,-1.3,-0.1,1.3,0.8,0.6],[-1.3,-1.3,0.0,1.4,0.7,0.5],
[-0.9,-0.6,-0.8,1.6,0.3,0.4],[-0.9,-0.9,-0.9,1.6,0.1,1.0],
[-0.9,-1.2,-0.8,1.3,0.8,0.8],[-0.8,-1.2,-0.9,1.3,0.9,0.7],[-0.8,-1.0,-1.0,1.3,0.8,0.7],[-0.8,-1.0,-1.0,1.3,0.8,0.7],
[-0.9,-1.0,-0.9,1.3,0.8,0.7],[-0.9,-0.9,-0.9,1.3,0.8,0.6],[-0.8,-0.9,-0.9,1.3,1.0,0.5],[-0.8,-0.9,-0.9,1.3,0.9,0.4],
[-0.9,-0.9,-0.9,1.4,0.8,0.5],[-0.9,-0.9,-0.9,1.4,0.7,0.6],
[-0.9,-0.9,-0.9,1.4,0.7,0.6],[-0.8,-1.0,-0.9,1.4,0.7,0.6],[-0.8,-0.9,-1.0,1.6,0.9,0.2],[-0.9,-0.8,-1.1,1.5,0.8,0.4],
[-1.4,-0.6,-0.7,1.4,0.7,0.6],[-1.3,-0.4,-0.6,1.2,0.8,0.3],[-1.3,-0.4,-1.1,1.1,1.2,0.5],[-1.3,-0.7,-0.8,1.0,1.1,0.7],
[-1.2,0.0,-1.3,0.9,0.6,1.0],[-1.1,-0.5,-1.1,0.9,0.1,1.7],
[-1.1,-0.3,-1.2,0.9,0.2,1.5],[-1.2,-0.7,-0.7,0.9,0.4,1.3],[-1.2,-0.8,-0.8,0.9,0.4,1.5],[-1.0,-0.9,-0.9,1.3,0.5,1.0],
[-1.0,-0.9,-0.9,1.3,0.5,1.0],[-0.9,-1.0,-0.9,1.3,0.4,1.1],[-0.9,-1.0,-0.9,1.3,0.4,1.1],[-0.9,-1.0,-0.9,1.3,0.4,1.1],
[-0.9,-0.9,-0.9,1.3,0.3,1.1],[-0.9,-0.8,-0.9,1.5,0.1,1.0],
[-0.9,-0.8,-0.9,1.4,0.1,1.1],[-0.7,-0.9,-0.9,1.3,0.2,1.0],[-0.8,-0.8,-0.8,1.3,0.0,1.1],[-0.8,-0.8,-0.8,1.3,0.0,1.1],
[-0.8,-0.8,-0.8,1.3,0.0,1.1],[-0.5,-1.5,-0.7,0.9,0.6,1.2],[-0.3,-1.4,-1.2,0.9,0.8,1.2]]

cbar_ticks = [1.5, 1, 0.5, 0, -0.5, -1, -1.5]

# ---------------- styling ----------------
BLUE = "#1F4EA6"
RED = "#E8201C"
GRAY = "#BEBEBE"
W, H = 708, 769

def fx(px):
    return px / W

def fy(py):
    return 1 - py / H

fig = plt.figure(figsize=(W / 100, H / 100), dpi=100)


def expand(rows):
    return [(x, y) for y, xs in rows for x in xs]


def volcano(rect, down, ns_rows, ns_extra, up, xlim, ylim, yticks):
    l, t, r, b = rect
    ax = fig.add_axes([fx(l), fy(b), fx(r - l), (b - t) / H])
    ns = np.array(expand(ns_rows) + ns_extra)
    d = np.array(down)
    u = np.array(up)
    thr = -np.log10(0.05)
    for v in (-2, 2):
        ax.axvline(v, color="#cfcfcf", lw=0.6, ls=(0, (4, 2, 1, 2)), zorder=1)
    ax.axhline(thr, color="#cfcfcf", lw=0.6, ls=(0, (4, 2, 1, 2)), zorder=1)
    ax.scatter(ns[:, 0], ns[:, 1], s=7.5, c=GRAY, lw=0, zorder=2)
    ax.scatter(d[:, 0], d[:, 1], s=7, c=BLUE, lw=0, zorder=3)
    ax.scatter(u[:, 0], u[:, 1], s=7, c=RED, lw=0, zorder=3)
    ax.set_xlim(*xlim)
    ax.set_ylim(*ylim)
    ax.set_xticks([-10, -5, 0, 5, 10])
    ax.set_xticklabels(["-10", "-5", "0", "5", "10"])
    ax.set_yticks(yticks)
    for s in ax.spines.values():
        s.set_color("#9a9a9a")
        s.set_linewidth(1.0)
    ax.tick_params(length=2.5, width=0.6, color="#666666", labelsize=6.2,
                   labelcolor="#333333", pad=1.5)
    for lab in ax.get_xticklabels() + ax.get_yticklabels():
        lab.set_fontweight("bold")
    ax.set_xlabel("log2 (fold change)", fontsize=7.6, fontweight="bold", labelpad=1)
    ax.set_ylabel("-log10 (p-value)", fontsize=7.6, fontweight="bold", labelpad=2)
    handles = [Line2D([], [], marker="o", ls="", color=c, markersize=2.4, markeredgewidth=0)
               for c in (BLUE, GRAY, RED)]
    leg = ax.legend(handles, legend_labels, loc="center left", bbox_to_anchor=(1.055, 0.49),
                    frameon=False, fontsize=4.9, handlelength=0.8, handletextpad=0.5,
                    labelspacing=0.75, borderpad=0, borderaxespad=0)
    for tx in leg.get_texts():
        tx.set_fontweight("bold")
    return ax

volcano((31, 28, 303, 235), a_down, a_ns_rows, a_ns_extra, a_up, (-12.4, 12.4), (-0.34, 7.58), [0, 2, 4, 6])
volcano((31, 279, 303, 487), b_down, b_ns_rows, b_ns_extra, b_up, (-10.57, 10.7), (-0.37, 8.44), [0, 2, 4, 6, 8])
volcano((31, 536, 303, 743), c_down, c_ns_rows, c_ns_extra, c_up, (-12.4, 12.4), (-0.33, 6.67), [0, 2, 4, 6])

for letter, (px, py) in zip("ABCD", [(3, 5), (3, 259), (3, 509), (400, 4)]):
    fig.text(fx(px), fy(py), letter, fontsize=11, family=["Open Sans", "DejaVu Sans"], va="top", ha="left")

# ---------------- Heatmap ----------------
M = np.array(hm_values)
nr, nc = M.shape
vlim = 1.73
cmap = LinearSegmentedColormap.from_list(
    "bwr_ph", [(0.0, "#182A8C"), (0.25, "#6A73C3"), (0.5, "#FFFFFF"), (0.75, "#EC6568"), (1.0, "#E41A1C")])

hl, hr, ht, hb = 467, 567, 114, 717
ax_hm = fig.add_axes([fx(hl), fy(hb), fx(hr - hl), (hb - ht) / H])
mesh = ax_hm.pcolormesh(np.arange(nc + 1), np.arange(nr + 1), M, cmap=cmap, vmin=-vlim, vmax=vlim)
ax_hm.set_xlim(0, nc)
ax_hm.set_ylim(nr, 0)
for s in ax_hm.spines.values():
    s.set_visible(False)
ax_hm.yaxis.tick_right()
ax_hm.set_yticks(np.arange(nr) + 0.5)
ax_hm.set_yticklabels(hm_rows, fontsize=5.6, color="#222222")
ax_hm.set_xticks(np.arange(nc) + 0.5)
ax_hm.set_xticklabels(hm_cols, fontsize=12.5, fontweight="bold", rotation=270, va="top", ha="center")
ax_hm.tick_params(length=0, pad=2)
ax_hm.tick_params(axis="x", pad=4)


def constrained_tree(X):
    """Agglomerative complete-linkage clustering restricted to neighbouring clusters."""
    n = len(X)
    D = np.sqrt(((X[:, None, :] - X[None, :, :]) ** 2).sum(-1))
    clusters = [[i] for i in range(n)]
    pos = [i + 0.5 for i in range(n)]
    hts = [0.0] * n
    segs = []
    while len(clusters) > 1:
        dists = [D[np.ix_(clusters[j], clusters[j + 1])].max() for j in range(len(clusters) - 1)]
        j = int(np.argmin(dists))
        h = max(dists[j], hts[j], hts[j + 1])
        segs.append((pos[j], hts[j], pos[j + 1], hts[j + 1], h))
        clusters[j:j + 2] = [clusters[j] + clusters[j + 1]]
        pos[j:j + 2] = [(pos[j] + pos[j + 1]) / 2]
        hts[j:j + 2] = [h]
    return segs, hts[0]

DCOL = "#3a3a3a"
# row dendrogram
segs, hmax = constrained_tree(M)
ax_rd = fig.add_axes([fx(393), fy(hb), fx(hl - 393), (hb - ht) / H])
for p1, h1, p2, h2, h in segs:
    ax_rd.plot([h1, h, h, h2], [p1, p1, p2, p2], color=DCOL, lw=0.9, clip_on=False)
ax_rd.set_xlim(hmax, 0)
ax_rd.set_ylim(nr, 0)
ax_rd.axis("off")

# column dendrogram
segs, hmax = constrained_tree(M.T)
ax_cd = fig.add_axes([fx(hl), fy(ht), fx(hr - hl), (ht - 42) / H])
for p1, h1, p2, h2, h in segs:
    ax_cd.plot([p1, p1, p2, p2], [h1, h, h, h2], color=DCOL, lw=0.9, clip_on=False)
ax_cd.set_xlim(0, nc)
ax_cd.set_ylim(0, hmax)
ax_cd.axis("off")

# colour bar
cax = fig.add_axes([fx(662), fy(322), fx(14), 208 / H])
cb = fig.colorbar(mesh, cax=cax, ticks=cbar_ticks)
cb.outline.set_visible(False)
cb.ax.set_yticklabels([("%g" % t) for t in cbar_ticks])
cb.ax.tick_params(length=0, labelsize=9, pad=5, labelcolor="#222222")

fig.savefig("out.png", dpi=100)
